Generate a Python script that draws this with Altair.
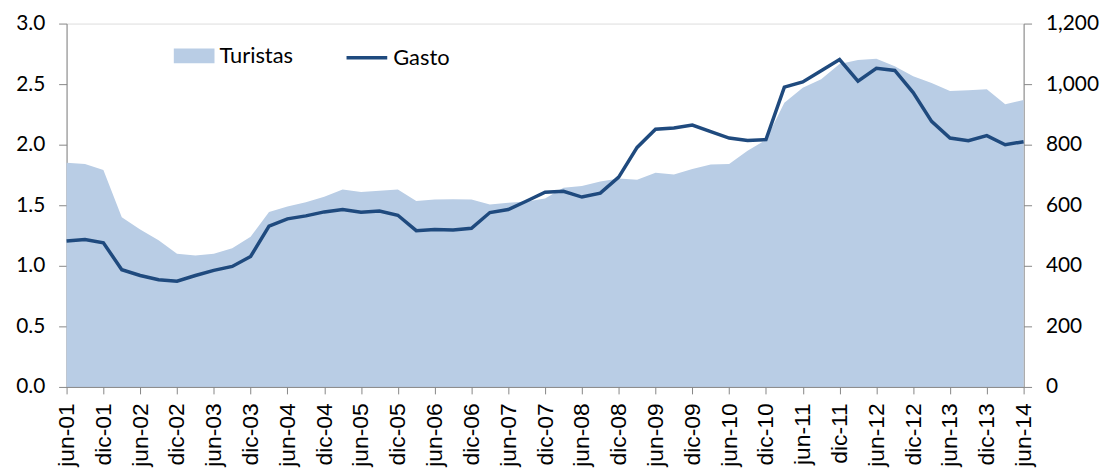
import json
import altair as alt
import pandas as pd

meses = ["mar", "jun", "sep", "dic"]
anios = ["01", "02", "03", "04", "05", "06", "07", "08", "09", "10", "11", "12", "13", "14"]

periodos = [f"{m}-{a}" for a in anios for m in meses][1:-2]  # jun-01 ... jun-14
etiquetas = periodos[::2]  # jun / dic labels

turistas = [1.85, 1.84, 1.79, 1.40, 1.30, 1.21, 1.10, 1.085, 1.10, 1.145,
            1.24, 1.445, 1.49, 1.525, 1.57, 1.63, 1.61, 1.62, 1.63, 1.535,
            1.547, 1.549, 1.547, 1.506, 1.52, 1.53, 1.555, 1.645, 1.658, 1.697,
            1.72, 1.71, 1.768, 1.754, 1.80, 1.836, 1.84, 1.95, 2.04, 2.347,
            2.47, 2.54, 2.667, 2.70, 2.71, 2.648, 2.566, 2.51, 2.443, 2.45,
            2.457, 2.333, 2.369]

gasto = [482, 487, 476, 387, 368, 354, 349, 368, 385, 398,
         431, 531, 555, 565, 578, 586, 577, 581, 567, 516,
         520, 518, 524, 576, 586, 614, 643, 646, 627, 640,
         693, 791, 851, 855, 865, 843, 822, 814, 817, 990,
         1007, 1044, 1081, 1010, 1052, 1045, 972, 877, 822, 813,
         830, 800, 810]

df = pd.DataFrame({
    "idx": list(range(len(periodos))),
    "periodo": periodos,
    "turistas": turistas,
    "gasto": gasto,
})

AXIS_GRAY = "#868686"
AREA_COLOR = "#B9CDE5"
LINE_COLOR = "#1F4A7E"

label_expr = json.dumps(etiquetas) + "[round(datum.value / 2)]"

x_enc = alt.X(
    "idx:Q",
    scale=alt.Scale(domain=[0, len(periodos) - 1], nice=False, zero=False),
    axis=alt.Axis(
        values=list(range(0, len(periodos), 2)), labelExpr=label_expr,
        title=None, labelAngle=-90, labelAlign="right", labelBaseline="middle",
        labelFont="Liberation Sans", labelFontSize=23, labelColor="black",
        labelPadding=9, tickSize=7, domainColor=AXIS_GRAY, tickColor=AXIS_GRAY,
        labelOverlap=False, labelFlush=False, labelBound=False, grid=False, zindex=1,
    ),
)

area = alt.Chart(df).transform_calculate(serie="'Turistas'").mark_area(
    color=AREA_COLOR, opacity=1, interpolate="linear"
).encode(
    x=x_enc,
    y=alt.Y(
        "turistas:Q",
        scale=alt.Scale(domain=[0, 3], nice=False),
        axis=alt.Axis(
            title=None, values=[0, 0.5, 1.0, 1.5, 2.0, 2.5, 3.0], format=".1f",
            labelFont="Lato", labelFontSize=21, labelColor="black", labelPadding=14,
            tickSize=8, domainColor=AXIS_GRAY, tickColor=AXIS_GRAY, grid=False,
        ),
    ),
    fill=alt.Fill(
        "serie:N",
        scale=alt.Scale(domain=["Turistas"], range=[AREA_COLOR]),
        legend=alt.Legend(
            title=None, orient="none", legendX=108, legendY=12, direction="horizontal",
            symbolType="M-1,-0.366H1V0.366H-1Z", symbolSize=1681, symbolStrokeWidth=0,
            labelFont="Lato", labelFontSize=22, labelColor="black", labelOffset=5,
            padding=0,
        ),
    ),
)

line = alt.Chart(df).transform_calculate(serie2="'Gasto'").mark_line(
    strokeWidth=3.5, interpolate="linear"
).encode(
    x=x_enc,
    y=alt.Y(
        "gasto:Q",
        scale=alt.Scale(domain=[0, 1200], nice=False),
        axis=alt.Axis(
            title=None, orient="right", values=[0, 200, 400, 600, 800, 1000, 1200],
            format=",.0f", labelFont="Lato", labelFontSize=21, labelColor="black",
            labelPadding=14, tickSize=8, domainColor=AXIS_GRAY, tickColor=AXIS_GRAY,
            grid=False,
        ),
    ),
    stroke=alt.Stroke(
        "serie2:N",
        scale=alt.Scale(domain=["Gasto"], range=[LINE_COLOR]),
        legend=alt.Legend(
            title=None, orient="none", legendX=280, legendY=12, direction="horizontal",
            symbolType="stroke", symbolSize=1681, symbolStrokeWidth=3.5,
            labelFont="Lato", labelFontSize=22, labelColor="black", labelOffset=4,
            padding=0,
        ),
    ),
)

chart = alt.layer(area, line).resolve_scale(
    y="independent", fill="independent", stroke="independent"
).properties(
    width=964, height=366,
    autosize=alt.AutoSizeParams(type="none"),
    padding={"left": 59, "top": 14, "right": 85, "bottom": 83},
).configure_view(stroke=None).configure(background="white")

chart.save("out.html", embed_options={"renderer": "svg", "actions": False})
